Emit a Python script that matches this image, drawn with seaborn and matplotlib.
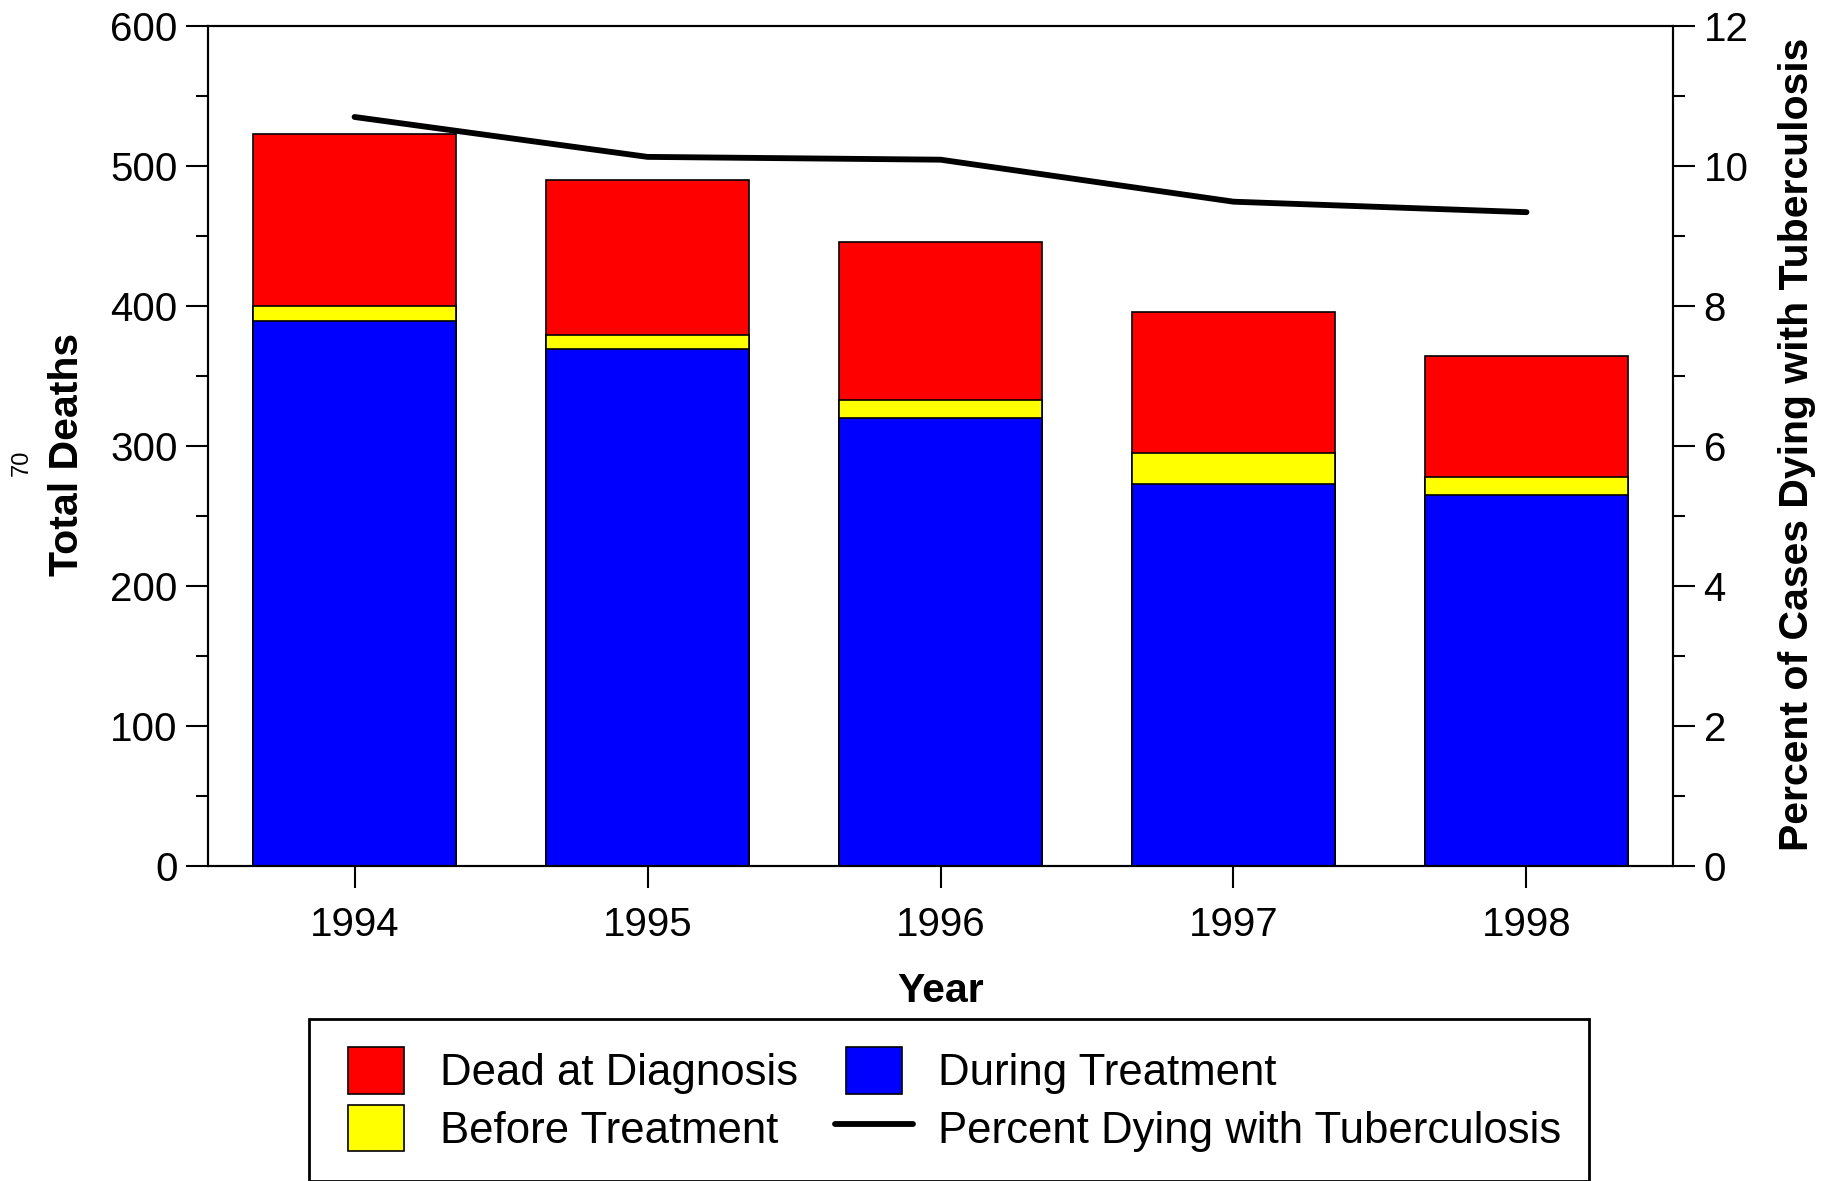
import numpy as np
import pandas as pd
import matplotlib
matplotlib.use("Agg")
import matplotlib.pyplot as plt
from matplotlib.patches import Patch, Rectangle
from matplotlib.lines import Line2D
from matplotlib.legend_handler import HandlerPatch
from matplotlib.ticker import MultipleLocator
import seaborn as sns

# values
years = ["1994", "1995", "1996", "1997", "1998"]
during_treatment = [389, 369, 320, 273, 265]
before_treatment = [11, 10, 13, 22, 13]
dead_at_diagnosis = [123, 111, 113, 101, 86]
pct_dying = [10.70, 10.13, 10.09, 9.49, 9.34]

df = pd.DataFrame({"Year": years,
                   "During": during_treatment,
                   "Before": before_treatment,
                   "Dead": dead_at_diagnosis})
df["lvl_yellow"] = df["During"] + df["Before"]
df["lvl_red"] = df["lvl_yellow"] + df["Dead"]

sns.set_style("ticks")
plt.rcParams["font.family"] = ["Liberation Sans", "DejaVu Sans"]
plt.rcParams["text.color"] = "black"
plt.rcParams["axes.labelcolor"] = "black"
plt.rcParams["xtick.color"] = "black"
plt.rcParams["ytick.color"] = "black"

fig = plt.figure(figsize=(18.22, 11.81), dpi=100)
ax = fig.add_axes([0.1142, 0.2667, 0.804, 0.7113])

# stacked bars drawn as layers, tallest first
sns.barplot(data=df, x="Year", y="lvl_red", color="#ff0000", saturation=1,
            width=0.69, edgecolor="black", linewidth=1.2, ax=ax)
sns.barplot(data=df, x="Year", y="lvl_yellow", color="#ffff00", saturation=1,
            width=0.69, edgecolor="black", linewidth=1.2, ax=ax)
sns.barplot(data=df, x="Year", y="During", color="#0000ff", saturation=1,
            width=0.69, edgecolor="black", linewidth=1.2, ax=ax)

ax2 = ax.twinx()
sns.lineplot(x=np.arange(len(years)), y=pct_dying, ax=ax2, color="black",
             linewidth=4.2, solid_capstyle="round")

ax.set_xlim(-0.5, 4.5)
ax.set_ylim(0, 600)
ax2.set_ylim(0, 12)
ax2.set_xlim(-0.5, 4.5)

ax.yaxis.set_major_locator(MultipleLocator(100))
ax.yaxis.set_minor_locator(MultipleLocator(50))
ax2.yaxis.set_major_locator(MultipleLocator(2))
ax2.yaxis.set_minor_locator(MultipleLocator(1))

for a in (ax, ax2):
    for s in a.spines.values():
        s.set_visible(True)
        s.set_linewidth(1.5)
        s.set_color("black")
    a.tick_params(which="major", length=16, width=1.5, labelsize=29, color="black")
    a.tick_params(which="minor", length=8.5, width=1.5, color="black")
ax.tick_params(axis="x", which="major", pad=13)
ax.tick_params(axis="y", pad=6)
ax2.tick_params(axis="y", pad=6)

ax.set_xlabel("Year", fontsize=29.5, fontweight="bold")
ax.set_ylabel("Total Deaths", fontsize=29.5, fontweight="bold")
ax2.set_ylabel("Percent of Cases Dying with Tuberculosis", fontsize=29.5, fontweight="bold")
ax.xaxis.set_label_coords(0.5, -0.126)
ax.yaxis.set_label_coords(-0.083, 0.49)
ax2.yaxis.set_label_coords(1.0717, 0.502)

fig.text(22 / 1822, 1 - 463 / 1181, "70", rotation=90, fontsize=17, ha="center", va="center")


class NarrowPatch(HandlerPatch):
    def __init__(self):
        super().__init__(patch_func=self.make)

    @staticmethod
    def make(legend, orig_handle, xdescent, ydescent, width, height, fontsize):
        w = width * 0.72
        return Rectangle((-xdescent + (width - w) / 2, -ydescent), w, height)


handles = [Patch(facecolor="#ff0000", edgecolor="black", linewidth=1.2),
           Patch(facecolor="#ffff00", edgecolor="black", linewidth=1.2),
           Patch(facecolor="#0000ff", edgecolor="black", linewidth=1.2),
           Line2D([], [], color="black", linewidth=4.2)]
labels = ["Dead at Diagnosis", "Before Treatment", "During Treatment",
          "Percent Dying with Tuberculosis"]
leg = fig.legend(handles, labels, ncol=2, loc="upper left",
                 bbox_to_anchor=(309 / 1822, 1 - 1019 / 1181),
                 fontsize=31.5, frameon=True, fancybox=False, framealpha=1,
                 edgecolor="black", handlelength=1.78, handleheight=1.25,
                 handletextpad=0.56, columnspacing=0.85, labelspacing=0.25,
                 borderpad=0.65, borderaxespad=0,
                 handler_map={Patch: NarrowPatch()})
leg.get_frame().set_linewidth(2)

fig.savefig("out.png", dpi=100)
